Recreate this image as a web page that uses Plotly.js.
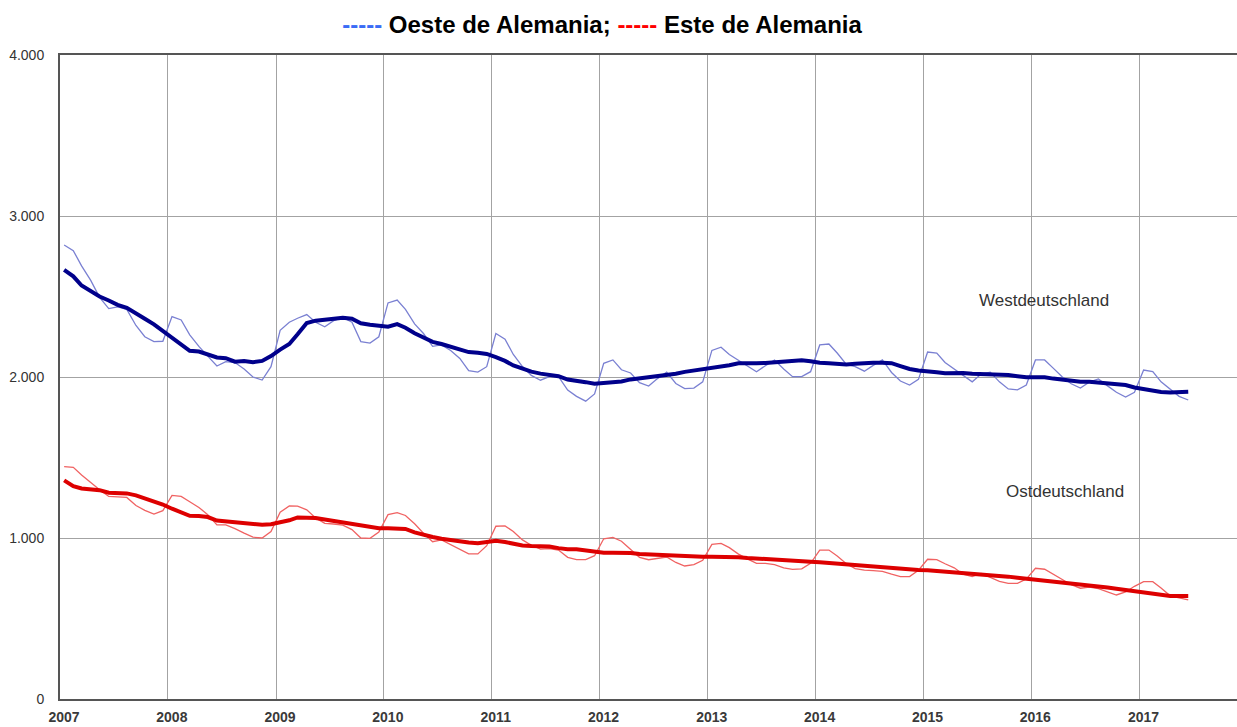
<!DOCTYPE html>
<html>
<head>
<meta charset="utf-8">
<script src="https://cdn.plot.ly/plotly-3.0.1.min.js"></script>
<style>html,body{margin:0;padding:0;background:#fff;overflow:hidden;}#chart{width:1237px;height:727px;}</style>
</head>
<body>
<div id="chart"></div>
<script>
// Monthly values, January 2007 to June 2017 (thousands)
var startYear = 2007;
var startMonth = 1;
var tickYears = [2007, 2008, 2009, 2010, 2011, 2012, 2013, 2014, 2015, 2016, 2017];
var yTicks = [0, 1000, 2000, 3000, 4000];

var westRaw = [
  2820, 2785, 2690, 2600, 2495, 2425, 2435, 2420, 2320, 2250, 2220, 2222,
  2375, 2354, 2262, 2190, 2130, 2068, 2095, 2090, 2050, 2000, 1981, 2064,
  2290, 2340, 2365, 2388, 2340, 2312, 2350, 2370, 2340, 2220, 2211, 2250,
  2460, 2478, 2420, 2330, 2270, 2190, 2199, 2165, 2115, 2040, 2030, 2064,
  2270, 2235, 2140, 2065, 2010, 1980, 2002, 2002, 1919, 1880, 1850, 1895,
  2085, 2106, 2045, 2025, 1965, 1944, 1990, 2030, 1960, 1928, 1931, 1970,
  2165, 2185, 2140, 2105, 2070, 2033, 2070, 2105, 2050, 2002, 2002, 2033,
  2199, 2205, 2149, 2078, 2064, 2036, 2072, 2106, 2028, 1975, 1950, 1985,
  2155, 2148, 2090, 2050, 2012, 1970, 2018, 2030, 1970, 1926, 1920, 1950,
  2106, 2106, 2055, 2000, 1958, 1931, 1968, 1988, 1945, 1905, 1876, 1905,
  2043, 2033, 1970, 1925, 1880, 1857
];
var westTrend = [
  2665, 2625, 2568, 2535, 2500, 2475, 2448, 2430, 2392, 2362, 2327, 2285,
  2240, 2198, 2163, 2158, 2140, 2121, 2117, 2095, 2100, 2092, 2100, 2130,
  2170, 2205, 2265, 2335, 2350, 2358, 2364, 2368, 2362, 2334, 2325, 2318,
  2312, 2328, 2306, 2272, 2243, 2218, 2205, 2190, 2170, 2155, 2150, 2143,
  2123, 2100, 2072, 2050, 2033, 2021, 2013, 2005, 1984, 1978, 1968, 1958,
  1962, 1971, 1972, 1985, 1992, 2000, 2005, 2009, 2020, 2032, 2040, 2046,
  2054, 2063, 2073, 2085, 2088, 2085, 2087, 2090, 2093, 2097, 2104, 2098,
  2088, 2086, 2083, 2077, 2082, 2088, 2089, 2089, 2086, 2068, 2050, 2041,
  2038, 2030, 2023, 2025, 2025, 2020, 2019, 2019, 2016, 2012, 2005, 1998,
  1998, 1998, 1990, 1983, 1975, 1971, 1971, 1966, 1958, 1954, 1950, 1935,
  1924, 1912, 1907, 1904, 1905, 1909
];
var eastRaw = [
  1443, 1439, 1392, 1344, 1300, 1258, 1256, 1252, 1202, 1172, 1148, 1170,
  1265, 1258, 1225, 1190, 1145, 1081, 1081, 1058, 1030, 1005, 1000, 1040,
  1160, 1199, 1198, 1175, 1125, 1091, 1087, 1080, 1052, 1000, 998, 1037,
  1145, 1157, 1140, 1088, 1030, 977, 988, 958, 926, 901, 901, 952,
  1073, 1075, 1041, 988, 955, 931, 934, 925, 880, 866, 866, 890,
  995, 1004, 980, 932, 880, 865, 875, 882, 848, 826, 835, 862,
  960, 967, 940, 900, 870, 843, 843, 834, 815, 805, 808, 843,
  925, 925, 888, 840, 810, 800, 797, 793, 775, 760, 760, 800,
  868, 866, 840, 815, 775, 760, 780, 755, 730, 718, 718, 745,
  812, 806, 775, 739, 710, 688, 695, 685, 665, 646, 665, 700,
  729, 729, 690, 641, 628, 615
];
var eastTrend = [
  1358, 1322, 1308, 1300, 1297, 1281, 1278, 1277, 1265, 1248, 1230, 1208,
  1182, 1157, 1138, 1137, 1130, 1108, 1103, 1098, 1091, 1084, 1082, 1085,
  1096, 1110, 1128, 1128, 1124, 1115, 1105, 1097, 1087, 1075, 1066, 1060,
  1060, 1059, 1056, 1035, 1018, 1006, 995, 986, 977, 972, 967, 976,
  983, 975, 965, 954, 950, 950, 947, 937, 930, 930, 922, 912,
  909, 909, 909, 907, 901, 898, 894, 892, 890, 888, 886, 884,
  884, 884, 884, 881, 876, 872, 867, 863, 861, 859, 856, 853,
  850, 845, 840, 835, 830, 826, 821, 816, 812, 805, 801, 801,
  799, 795, 791, 787, 782, 777, 772, 768, 764, 760, 753, 747,
  741, 738, 734, 728, 720, 713, 707, 700, 692, 685, 677, 668,
  658, 650, 645, 640, 640, 640
];

function pad(n){ return (n < 10 ? '0' : '') + n; }
var dates = [];
for (var i = 0; i < westRaw.length; i++) {
  var mm = startMonth - 1 + i;
  var yy = startYear + Math.floor(mm / 12);
  dates.push(yy + '-' + pad(mm % 12 + 1) + '-15');
}

var traces = [
  {x: dates, y: westRaw, type: 'scatter', mode: 'lines', name: 'Westdeutschland',
   line: {color: '#7a80d2', width: 1.3}, hoverinfo: 'x+y'},
  {x: dates, y: eastRaw, type: 'scatter', mode: 'lines', name: 'Ostdeutschland',
   line: {color: '#f06262', width: 1.3}, hoverinfo: 'x+y'},
  {x: dates, y: westTrend, type: 'scatter', mode: 'lines', name: 'Oeste de Alemania',
   line: {color: '#00008b', width: 4}, hoverinfo: 'x+y'},
  {x: dates, y: eastTrend, type: 'scatter', mode: 'lines', name: 'Este de Alemania',
   line: {color: '#dd0000', width: 4}, hoverinfo: 'x+y'}
];

var tickVals = tickYears.map(function(y){ return y + '-01-01'; });
var tickText = tickYears.map(function(y){ return String(y); });

var layout = {
  width: 1237, height: 727,
  margin: {l: 60, r: 0, t: 55, b: 28},
  paper_bgcolor: '#ffffff', plot_bgcolor: '#ffffff',
  separators: ',.',
  showlegend: false,
  font: {family: 'Liberation Sans, Arial, sans-serif', color: '#333333'},
  title: {
    text: '<span style="color:#3b6cf6">-----</span> Oeste de Alemania; <span style="color:#ff0000">-----</span> Este de Alemania',
    font: {family: 'Liberation Sans, Arial, sans-serif', size: 24, color: '#000000', weight: 'bold'},
    x: 0.4867, xref: 'container', xanchor: 'center',
    y: 0.966, yref: 'container', yanchor: 'middle'
  },
  xaxis: {
    type: 'date',
    range: ['2007-01-01', '2017-11-27'],
    tickmode: 'array', tickvals: tickVals, ticktext: tickText,
    showgrid: true, gridcolor: '#a3a3a3', gridwidth: 1,
    showline: true, linecolor: '#555555', linewidth: 2, mirror: true,
    ticks: '', zeroline: false,
    tickfont: {size: 14, color: '#3a3a3a', weight: 'bold'},
    ticklabelshift: 4, ticklabelstandoff: 4,
    fixedrange: true
  },
  yaxis: {
    range: [0, 4000],
    tickmode: 'array', tickvals: yTicks,
    tickformat: ',d',
    showgrid: true, gridcolor: '#a3a3a3', gridwidth: 1,
    showline: true, linecolor: '#555555', linewidth: 2,
    ticks: '', zeroline: false,
    tickfont: {size: 14, color: '#333333'},
    ticklabelstandoff: 11,
    fixedrange: true
  },
  shapes: [
    {type: 'rect', xref: 'paper', yref: 'paper', x0: 0.725, x1: 0.94, y0: 0.577, y1: 0.658,
     fillcolor: '#ffffff', line: {width: 0}, layer: 'between'},
    {type: 'rect', xref: 'paper', yref: 'paper', x0: 0.725, x1: 0.94, y0: 0.286, y1: 0.363,
     fillcolor: '#ffffff', line: {width: 0}, layer: 'between'}
  ],
  annotations: [
    {text: 'Westdeutschland', xref: 'paper', yref: 'paper', x: (1044 - 60) / 1177, y: (699 - 300) / 644,
     xanchor: 'center', yanchor: 'middle', showarrow: false,
     font: {size: 17, color: '#333333', family: 'Liberation Sans, Arial, sans-serif'}},
    {text: 'Ostdeutschland', xref: 'paper', yref: 'paper', x: (1065 - 60) / 1177, y: (699 - 491) / 644,
     xanchor: 'center', yanchor: 'middle', showarrow: false,
     font: {size: 17, color: '#333333', family: 'Liberation Sans, Arial, sans-serif'}}
  ]
};

Plotly.newPlot('chart', traces, layout, {displayModeBar: false, staticPlot: true});
</script>
</body>
</html>
